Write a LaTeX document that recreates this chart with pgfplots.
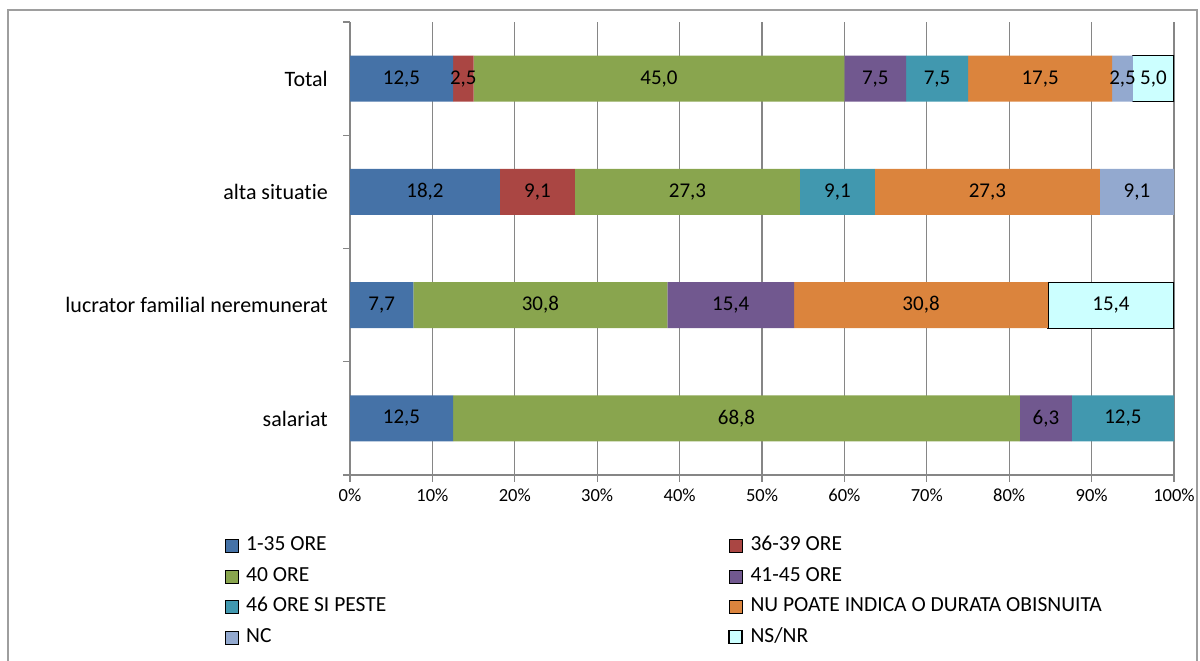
\documentclass[border=0pt]{standalone}
\usepackage{fontspec}
\setmainfont{Carlito}[Ligatures={NoCommon}]
\usepackage{pgfplots}
\pgfplotsset{compat=1.18}
\definecolor{cA}{HTML}{4572A7}
\definecolor{cB}{HTML}{AA4643}
\definecolor{cC}{HTML}{89A54E}
\definecolor{cD}{HTML}{71588F}
\definecolor{cE}{HTML}{4198AF}
\definecolor{cF}{HTML}{DB843D}
\definecolor{cG}{HTML}{93A9CF}
\definecolor{cH}{HTML}{CCFFFF}
\definecolor{gridgray}{HTML}{868686}
\begin{document}
\fontsize{21bp}{25bp}\selectfont
\begin{tikzpicture}[x=1bp,y=1bp]
\useasboundingbox (0,0) rectangle (1200,661);
\draw[color=gridgray!80, line width=1.5bp] (8,-20) rectangle (1197,651);
\begin{axis}[
  at={(350bp,186bp)}, anchor=south west,
  scale only axis, width=824bp, height=453bp,
  xbar stacked, bar width=46bp,
  xmin=0, xmax=100, ymin=-0.5, ymax=3.5,
  axis x line*=bottom, axis y line*=left,
  axis line style={draw=gridgray, line width=1.2bp},
  every axis plot/.append style={draw=none},
  /pgf/number format/assume math mode=true,
  xtick={0,10,...,100},
  xticklabel={\pgfmathprintnumber[fixed,precision=0]{\tick}\%},
  xticklabel style={font=\fontsize{18.5bp}{22bp}\selectfont},
  xmajorgrids, major grid style={draw=gridgray, line width=1.2bp},
  ytick={-0.5,0.5,1.5,2.5,3.5},
  yticklabels={salariat, lucrator familial neremunerat, alta situatie, Total, {}},
  yticklabel style={yshift=56.5bp, xshift=-8bp, font=\fontsize{22bp}{26bp}\selectfont},
  tick align=outside, major tick length=7bp,
  tick style={draw=gridgray, line width=1.2bp},
  point meta=explicit,
  nodes near coords={\pgfmathfloatifflags{\pgfplotspointmeta}{0}{}{\pgfmathprintnumber[fixed,fixed zerofill,precision=1,use comma]{\pgfplotspointmeta}}},
  every node near coord/.append style={anchor=center, text=black, font=\fontsize{21bp}{25bp}\selectfont},
  legend columns=2,
  legend cell align=left,
  legend style={at={(-0.1517,-0.130)}, anchor=north west, draw=none, fill=none,
    inner sep=0pt, outer sep=0pt, row sep=6.5bp,
    font=\fontsize{21.5bp}{25bp}\selectfont,
    nodes={inner sep=2bp, text height=15bp, text depth=5bp},
    /tikz/every even column/.append style={column sep=340bp}},
  legend image code/.code={\draw[#1] (0bp,-6.5bp) rectangle (13bp,6.5bp); \path (19bp,0bp);},
]
% row order: lucrator (1), Total (3), alta (2), salariat (0)
% bar lengths scaled so that each row fills 100%; labels are the printed values
\addplot[fill=cA] coordinates {(7.7,1) [7.7] (12.5,3) [12.5] (18.2,2) [18.2] (12.5,0) [12.5]};
\addplot[fill=cB] coordinates {(0,1) [0] (2.5,3) [2.5] (9.1,2) [9.1] (0,0) [0]};
\addplot[fill=cC] coordinates {(30.8,1) [30.8] (45.0,3) [45.0] (27.3,2) [27.3] (68.8,0) [68.8]};
\addplot[fill=cD] coordinates {(15.4,1) [15.4] (7.5,3) [7.5] (0,2) [0] (6.3,0) [6.3]};
\addplot[fill=cE] coordinates {(0,1) [0] (7.5,3) [7.5] (9.1,2) [9.1] (12.4,0) [12.5]};
\addplot[fill=cF] coordinates {(30.8,1) [30.8] (17.5,3) [17.5] (27.3,2) [27.3] (0,0) [0]};
\addplot[fill=cG] coordinates {(0,1) [0] (2.5,3) [2.5] (9.0,2) [9.1] (0,0) [0]};
\addplot[fill=cH, draw=black, line width=1.2bp] coordinates {(15.3,1) [15.4] (5.0,3) [5.0]};
\legend{1-35 ORE, 36-39 ORE, 40 ORE, 41-45 ORE, 46 ORE SI PESTE, NU POATE INDICA O DURATA OBISNUITA, NC, NS/NR}
\end{axis}
\end{tikzpicture}
\end{document}
